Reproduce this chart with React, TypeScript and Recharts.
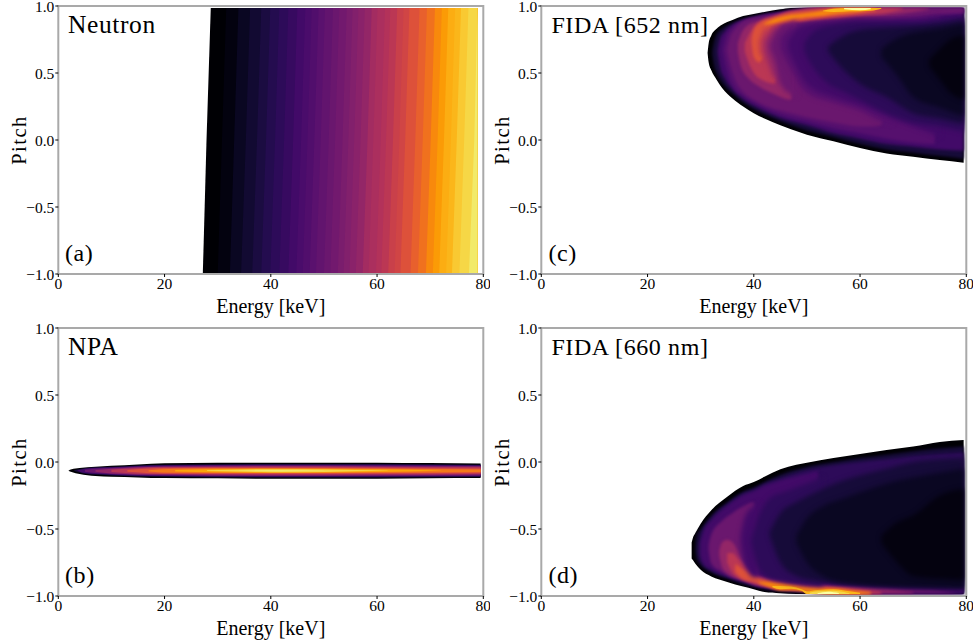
import { Area, ComposedChart, ReferenceArea, XAxis, YAxis } from 'recharts';

// [energy keV, lower pitch, upper pitch]
type Edge = [number, number, number];
type Band = [Edge[], string, string?];

const energyTicks = [0, 20, 40, 60, 80];
const pitchTicks = [-1, -0.5, 0, 0.5, 1];

// inferno steps used by the contour bands
const ink0 = '#000004';
const ink05 = '#0a0722';
const ink01 = '#04020f';
const ink10 = '#160b39';
const ink15 = '#2d0b59';
const ink20 = '#420a68';
const ink25 = '#56106e';
const ink30 = '#6a176e';
const ink40 = '#932667';
const ink50 = '#bb3754';
const ink60 = '#dd513a';
const ink70 = '#f37819';
const ink75 = '#f8890c';
const ink80 = '#fca50a';
const ink85 = '#fbb61a';
const ink90 = '#f6d746';
const ink95 = '#f2ea69';
const ink100 = '#fcffa4';

// ---------------------------------------------------------------- Neutron
const neutronColors = [
  '#000004', '#03020f', '#0a0722', '#120a32', '#1b0c41', '#240c4f', '#2d0b59', '#370a60', '#420a68',
  '#4a0c6b', '#510e6c', '#5a116e', '#62146e', '#6a176e', '#72196e', '#7a1d6d', '#82206c', '#8a226a',
  '#932667', '#a32c61', '#ab2f5e', '#b3325a', '#bb3754', '#c9404a', '#d04545', '#dd513a', '#e8602d',
  '#f0711e', '#f8890c', '#fb9b06', '#fcad12', '#fbb61a', '#f9c932', '#f6d746', '#f2ea69',
];
const neutronEdgesTop = [
  28.7, 31.6, 33.9, 36.1, 38.2, 39.9, 41.6, 43.3, 45, 46.5, 47.7, 49, 50.2, 51.7, 52.9, 54.3, 55.4, 56.5,
  57.7, 59, 60.1, 61.5, 62.5, 63.8, 65, 66.1, 68, 69.4, 70.9, 72.2, 73.4, 74.7, 75.8, 77.2, 78.9, 78.9,
];
const neutronEdgesMid = [
  27.9, 30.8, 33.1, 35.3, 37.4, 39.1, 40.8, 42.5, 44.2, 45.7, 46.9, 48.2, 49.4, 50.9, 52.1, 53.5, 54.6, 55.7,
  56.9, 58.2, 59.3, 60.7, 61.7, 63, 64.2, 65.3, 67.2, 68.6, 70.1, 71.4, 72.6, 73.9, 75, 76.4, 78.3, 78.9,
];
const neutronEdgesBottom = [
  27.2, 30, 32.3, 34.4, 36.5, 38.2, 39.9, 41.6, 43.3, 44.8, 46, 47.3, 48.5, 50, 51.2, 52.6, 53.7, 54.8,
  56, 57.3, 58.4, 59.8, 60.8, 62.1, 63.3, 64.4, 66.3, 67.7, 69.2, 70.5, 71.7, 73, 74.1, 75.5, 77.3, 78.9,
];
const neutronPitches = [0.985, 0, -1];

// ---------------------------------------------------------------- NPA
const npa0: Edge[] = [[1.9, -0.065, -0.065], [2.5, -0.075, -0.055], [4, -0.09, -0.045], [7, -0.105, -0.035], [10, -0.11, -0.028], [15, -0.115, -0.018], [20, -0.12, -0.01], [30, -0.122, -0.005], [40, -0.125, -0.005], [60, -0.125, -0.005], [70, -0.122, -0.008], [79.5, -0.12, -0.012]];
const npa1: Edge[] = [[3, -0.068, -0.062], [5, -0.088, -0.046], [10, -0.1, -0.036], [20, -0.11, -0.02], [40, -0.115, -0.015], [60, -0.115, -0.015], [79.5, -0.112, -0.02]];
const npa2: Edge[] = [[3.6, -0.066, -0.063], [5, -0.083, -0.05], [10, -0.095, -0.04], [20, -0.105, -0.025], [40, -0.11, -0.02], [60, -0.11, -0.02], [79.5, -0.107, -0.024]];
const npa3: Edge[] = [[5, -0.072, -0.058], [7, -0.083, -0.05], [10, -0.09, -0.044], [20, -0.1, -0.03], [40, -0.105, -0.025], [60, -0.104, -0.026], [79.5, -0.102, -0.029]];
const npa4: Edge[] = [[7, -0.072, -0.06], [10, -0.085, -0.05], [20, -0.095, -0.035], [40, -0.1, -0.03], [60, -0.098, -0.032], [79.5, -0.096, -0.034]];
const npa5: Edge[] = [[10, -0.075, -0.058], [14, -0.085, -0.048], [20, -0.09, -0.04], [40, -0.094, -0.036], [60, -0.092, -0.038], [79.5, -0.09, -0.04]];
const npa6: Edge[] = [[13, -0.072, -0.06], [20, -0.085, -0.045], [40, -0.088, -0.042], [60, -0.086, -0.044], [79.5, -0.082, -0.048]];
const npa7: Edge[] = [[17, -0.07, -0.062], [22, -0.08, -0.05], [40, -0.083, -0.047], [60, -0.08, -0.05], [79.5, -0.074, -0.056]];
const npa8: Edge[] = [[22, -0.07, -0.06], [30, -0.077, -0.053], [40, -0.08, -0.05], [60, -0.075, -0.055], [72, -0.066, -0.064]];
const npa9: Edge[] = [[28, -0.068, -0.062], [40, -0.076, -0.054], [50, -0.074, -0.056], [62, -0.066, -0.064]];
const npa10: Edge[] = [[34, -0.066, -0.064], [42, -0.07, -0.06], [50, -0.066, -0.064]];
const npaBands: Band[] = [
  [npa1, ink10, 'crisp'], [npa2, ink20, 'crisp'], [npa3, ink30, 'crisp'], [npa4, ink40, 'crisp'], [npa5, ink50, 'crisp'],
  [npa6, ink60, 'crisp'], [npa7, ink70, 'crisp'], [npa8, ink80, 'crisp'], [npa9, ink90, 'crisp'], [npa10, ink95, 'crisp'],
];

// ---------------------------------------------------------------- FIDA 652
const c0: Edge[] = [[31.3, 0.65, 0.65], [31.5, 0.58, 0.72], [32, 0.52, 0.78], [33, 0.45, 0.83], [34, 0.39, 0.86], [36, 0.31, 0.895], [38, 0.25, 0.925], [40, 0.2, 0.94], [42, 0.16, 0.955], [45, 0.11, 0.975], [47, 0.08, 0.985], [50, 0.04, 0.985], [55, -0.01, 0.985], [60, -0.06, 0.985], [65, -0.1, 0.985], [70, -0.125, 0.985], [75, -0.15, 0.985], [79.5, -0.17, 0.985]];
const c1: Edge[] = [[32.2, 0.64, 0.66], [32.5, 0.56, 0.73], [33, 0.5, 0.79], [34, 0.43, 0.83], [36, 0.345, 0.875], [38, 0.28, 0.905], [40, 0.23, 0.925], [42, 0.19, 0.94], [45, 0.14, 0.96], [47, 0.11, 0.975], [50, 0.07, 0.985], [55, 0.02, 0.985], [60, -0.03, 0.985], [65, -0.07, 0.985], [70, -0.095, 0.985], [75, -0.12, 0.985], [79.5, -0.14, 0.985]];
const c2: Edge[] = [[33.2, 0.65, 0.67], [33.6, 0.55, 0.75], [34.5, 0.46, 0.81], [36, 0.375, 0.86], [38, 0.305, 0.895], [40, 0.255, 0.915], [42, 0.215, 0.935], [45, 0.165, 0.95], [47, 0.14, 0.965], [50, 0.11, 0.98], [55, 0.05, 0.985], [60, 0.01, 0.985], [65, -0.03, 0.985], [70, -0.05, 0.985], [75, -0.07, 0.985], [79.5, -0.08, 0.985]];
const c25: Edge[] = [[34.2, 0.66, 0.68], [34.7, 0.56, 0.76], [36, 0.41, 0.84], [38, 0.33, 0.89], [40, 0.28, 0.912], [45, 0.19, 0.948], [50, 0.14, 0.975], [55, 0.09, 0.985], [60, 0.05, 0.985], [65, 0.01, 0.985], [70, -0.02, 0.985], [74, -0.03, 0.985], [75, 0.93, 0.985], [79.5, 0.94, 0.985]];
const c3: Edge[] = [[35, 0.66, 0.68], [35.5, 0.57, 0.76], [36.5, 0.45, 0.83], [38, 0.36, 0.885], [40, 0.3, 0.91], [42, 0.26, 0.925], [45, 0.22, 0.945], [47, 0.2, 0.955], [50, 0.17, 0.97], [55, 0.13, 0.98], [60, 0.1, 0.985], [62, 0.1, 0.985], [64, 0.11, 0.985], [66, 0.9, 0.985], [70, 0.92, 0.985], [75, 0.94, 0.985], [79.5, 0.95, 0.985]];
const c4: Edge[] = [[37, 0.66, 0.72], [37.5, 0.56, 0.78], [39, 0.46, 0.86], [41, 0.4, 0.89], [44, 0.34, 0.925], [47, 0.3, 0.945], [48, 0.92, 0.955], [49, 0.905, 0.97], [52, 0.9, 0.985], [60, 0.92, 0.985], [65, 0.93, 0.985], [70, 0.955, 0.985], [73, 0.975, 0.985]];
const c5: Edge[] = [[38.3, 0.66, 0.72], [39, 0.58, 0.78], [40, 0.5, 0.845], [42, 0.44, 0.9], [44, 0.42, 0.925], [45, 0.86, 0.94], [46, 0.87, 0.955], [50, 0.885, 0.975], [55, 0.91, 0.985], [60, 0.93, 0.985], [65, 0.95, 0.985], [68, 0.975, 0.985]];
const c6: Edge[] = [[39.6, 0.72, 0.76], [40, 0.62, 0.82], [41, 0.58, 0.87], [41.5, 0.6, 0.885], [43, 0.84, 0.905], [46, 0.875, 0.94], [50, 0.9, 0.96], [55, 0.925, 0.975], [60, 0.945, 0.985], [63, 0.965, 0.985]];
const c7: Edge[] = [[42, 0.86, 0.87], [44, 0.875, 0.905], [46, 0.895, 0.925], [50, 0.92, 0.945], [53, 0.93, 0.965], [56, 0.945, 0.985], [60, 0.96, 0.985], [62, 0.975, 0.985]];
const c8: Edge[] = [[53, 0.96, 0.965], [55, 0.955, 0.98], [58, 0.96, 0.985], [62, 0.965, 0.985], [64, 0.98, 0.985]];
const c9: Edge[] = [[57, 0.975, 0.985], [60, 0.968, 0.985], [62, 0.975, 0.985]];
const cHole6: Edge[] = [[41, 0.68, 0.74], [41.5, 0.62, 0.79], [42, 0.62, 0.83], [43, 0.7, 0.84]];
const cHole5: Edge[] = [[42, 0.66, 0.74], [43, 0.54, 0.8], [44, 0.46, 0.84], [45, 0.46, 0.85]];
const cHole4: Edge[] = [[43, 0.68, 0.72], [44, 0.58, 0.8], [45, 0.42, 0.85], [47, 0.34, 0.88], [48, 0.32, 0.9]];
const cHole3: Edge[] = [[45, 0.68, 0.76], [46.7, 0.55, 0.83], [50, 0.35, 0.87], [55, 0.28, 0.88], [60, 0.22, 0.9], [64, 0.14, 0.9], [66, 0.12, 0.9]];
const cHole25: Edge[] = [[46.5, 0.68, 0.74], [48, 0.55, 0.82], [50, 0.42, 0.86], [55, 0.32, 0.885], [60, 0.26, 0.9], [65, 0.18, 0.9], [70, 0.1, 0.9], [74, 0.04, 0.92], [75, 0.02, 0.93]];
const cHole2: Edge[] = [[49.5, 0.66, 0.72], [51, 0.55, 0.8], [54, 0.42, 0.85], [57, 0.36, 0.87], [60, 0.3, 0.88], [65, 0.2, 0.88], [70, 0.13, 0.88], [75, 0.1, 0.9], [79.5, 0.06, 0.92]];
const cHole15: Edge[] = [[54, 0.66, 0.7], [57, 0.52, 0.78], [60, 0.42, 0.82], [65, 0.32, 0.84], [70, 0.2, 0.85], [75, 0.16, 0.87], [79.5, 0.12, 0.9]];
const cHole1: Edge[] = [[64, 0.62, 0.68], [67, 0.48, 0.76], [70, 0.32, 0.8], [75, 0.24, 0.83], [79.5, 0.18, 0.87]];
const cHole0: Edge[] = [[73, 0.55, 0.6], [75, 0.45, 0.68], [77, 0.35, 0.75], [79.5, 0.3, 0.78]];
const cBands: Band[] = [
  [c1, ink10], [c2, ink20], [c25, ink25], [c3, ink30], [c4, ink40], [c5, ink50], [c6, ink60], [c7, ink75], [c8, ink85, 'crisp'], [c9, ink100, 'crisp'],
  [cHole6, ink50, 'soft'], [cHole5, ink40, 'soft'], [cHole4, ink30, 'soft'], [cHole3, ink25, 'soft'], [cHole25, ink20, 'soft'], [cHole2, ink15, 'soft'], [cHole15, ink10, 'soft'], [cHole1, ink05, 'soft'], [cHole0, ink01, 'soft'],
];

// ---------------------------------------------------------------- FIDA 660
const d0: Edge[] = [[28.3, -0.72, -0.6], [28.5, -0.73, -0.57], [29, -0.76, -0.53], [30, -0.805, -0.46], [32, -0.855, -0.36], [35, -0.895, -0.26], [38, -0.93, -0.18], [40, -0.95, -0.15], [42, -0.97, -0.11], [45, -0.98, -0.055], [48, -0.985, -0.02], [50, -0.985, -0.005], [55, -0.985, 0.03], [60, -0.985, 0.06], [65, -0.985, 0.09], [70, -0.985, 0.115], [75, -0.985, 0.15], [79.5, -0.985, 0.165]];
const d1: Edge[] = [[29, -0.66, -0.62], [29.2, -0.72, -0.55], [30, -0.77, -0.5], [32, -0.825, -0.4], [35, -0.87, -0.3], [38, -0.91, -0.22], [40, -0.93, -0.19], [42, -0.95, -0.15], [45, -0.965, -0.095], [50, -0.975, -0.035], [55, -0.985, 0], [60, -0.985, 0.03], [65, -0.985, 0.055], [70, -0.985, 0.08], [75, -0.985, 0.1], [79.5, -0.985, 0.115]];
const d15: Edge[] = [[29.6, -0.68, -0.62], [30, -0.74, -0.55], [32, -0.81, -0.42], [35, -0.86, -0.315], [38, -0.9, -0.235], [40, -0.92, -0.205], [42, -0.94, -0.165], [45, -0.958, -0.12], [50, -0.97, -0.06], [55, -0.98, -0.025], [60, -0.983, 0], [65, -0.983, 0.02], [70, -0.983, 0.045], [75, -0.983, 0.06], [79.5, -0.983, 0.07]];
const d2: Edge[] = [[30, -0.7, -0.6], [30.6, -0.76, -0.52], [32, -0.8, -0.44], [35, -0.85, -0.33], [38, -0.89, -0.25], [40, -0.91, -0.22], [42, -0.93, -0.18], [45, -0.95, -0.14], [50, -0.965, -0.09], [52, -0.968, -0.07], [53, -0.97, -0.9], [60, -0.98, -0.92], [70, -0.98, -0.93], [79.5, -0.98, -0.94]];
const d3: Edge[] = [[31.5, -0.66, -0.62], [32, -0.76, -0.54], [34, -0.82, -0.44], [36, -0.86, -0.38], [38, -0.875, -0.33], [40, -0.92, -0.3], [41, -0.93, -0.85], [45, -0.94, -0.87], [50, -0.96, -0.9], [55, -0.97, -0.92], [60, -0.98, -0.93], [70, -0.98, -0.95], [75, -0.98, -0.96], [78, -0.98, -0.975]];
const d4: Edge[] = [[33.5, -0.7, -0.66], [34, -0.78, -0.6], [35, -0.83, -0.58], [36, -0.855, -0.6], [38, -0.885, -0.74], [40, -0.91, -0.83], [45, -0.945, -0.89], [50, -0.955, -0.915], [55, -0.975, -0.93], [60, -0.98, -0.94], [66, -0.98, -0.955], [70, -0.98, -0.97]];
const d5: Edge[] = [[35, -0.75, -0.68], [36, -0.83, -0.68], [37, -0.86, -0.72], [39, -0.89, -0.8], [41, -0.915, -0.87], [45, -0.95, -0.9], [50, -0.96, -0.925], [55, -0.98, -0.935], [60, -0.985, -0.95], [64, -0.985, -0.97]];
const d6: Edge[] = [[36.5, -0.82, -0.76], [38, -0.875, -0.8], [40, -0.895, -0.85], [42, -0.92, -0.88], [45, -0.955, -0.905], [48, -0.955, -0.925], [50, -0.965, -0.935], [55, -0.985, -0.94], [60, -0.985, -0.96], [62, -0.985, -0.97]];
const d7: Edge[] = [[41, -0.905, -0.895], [43, -0.93, -0.9], [45, -0.955, -0.91], [47, -0.955, -0.92], [49, -0.96, -0.935], [52, -0.975, -0.945], [55, -0.985, -0.945], [59, -0.985, -0.965], [62, -0.985, -0.975]];
const d8: Edge[] = [[43.5, -0.935, -0.925], [45, -0.95, -0.925], [47, -0.945, -0.93], [49, -0.96, -0.95], [50, -0.985, -0.965], [52, -0.985, -0.955], [55, -0.985, -0.95], [58, -0.985, -0.965], [60, -0.985, -0.975]];
const d85: Edge[] = [[50.5, -0.985, -0.975], [52, -0.985, -0.965], [55, -0.985, -0.96], [57, -0.985, -0.97], [58, -0.985, -0.98]];
const d9: Edge[] = [[52, -0.985, -0.98], [54, -0.985, -0.968], [56, -0.985, -0.978]];
const dHole3: Edge[] = [[37.5, -0.6, -0.55], [38, -0.72, -0.45], [39, -0.82, -0.36], [40, -0.86, -0.33], [41, -0.85, -0.3]];
const dHole2: Edge[] = [[39.5, -0.6, -0.58], [41, -0.8, -0.4], [43, -0.87, -0.27], [46, -0.9, -0.22], [50, -0.92, -0.16], [53, -0.93, -0.11]];
const dHole15: Edge[] = [[43, -0.55, -0.52], [45, -0.75, -0.38], [48, -0.85, -0.3], [52, -0.89, -0.22], [56, -0.91, -0.15], [60, -0.92, -0.1], [65, -0.93, -0.05], [70, -0.935, 0], [75, -0.94, 0.02], [79.5, -0.945, 0.03]];
const dHole1: Edge[] = [[48, -0.6, -0.55], [50, -0.75, -0.42], [53, -0.85, -0.33], [57, -0.9, -0.27], [62, -0.92, -0.2], [67, -0.93, -0.14], [72, -0.935, -0.1], [79.5, -0.94, -0.05]];
const dHole0: Edge[] = [[64, -0.6, -0.55], [67, -0.75, -0.45], [70, -0.85, -0.4], [75, -0.87, -0.25], [79.5, -0.88, -0.2]];
const dBands: Band[] = [
  [d1, ink10], [d15, ink15], [d2, ink20], [d3, ink30], [d4, ink40], [d5, ink50], [d6, ink60], [d7, ink75], [d8, ink85, 'crisp'], [d85, ink90, 'crisp'], [d9, ink100, 'crisp'],
  [dHole3, ink20, 'soft'], [dHole2, ink15, 'soft'], [dHole15, ink10, 'soft'], [dHole1, ink05, 'soft'], [dHole0, ink01, 'soft'],
];

const FONT = '"Liberation Serif", serif';
const SPINE = '#a9a9a9';
// room above each plot, so that the top tick label is not cut by the svg
const HEADROOM = 16;

const formatPitch = (v: number) => (v < 0 ? `\u2212${Math.abs(v).toFixed(1)}` : v.toFixed(1));
const toRows = (edges: Edge[]) => edges.map(([energy, low, high]) => ({ energy, range: [low, high] }));

// each neutron band runs to the last edge, so the next band paints over it without a seam
const neutronRows = neutronPitches.map((pitch, r) => {
  const edges = [neutronEdgesTop, neutronEdgesMid, neutronEdgesBottom][r];
  const row: Record<string, any> = { pitch };
  neutronColors.forEach((_, i) => {
    row[`b${i}`] = [edges[i], edges[edges.length - 1]];
  });
  return row;
});

interface PanelProps {
  left: number;
  plotTop: number;
  title: string;
  titleSize: number;
  tag: string;
  outline?: Edge[];
  bands?: Band[];
  vertical?: boolean;
}

function Panel({ left, plotTop, title, titleSize, tag, outline, bands = [], vertical = false }: PanelProps) {
  const axisTick = { fill: '#000', fontSize: 15.5, fontFamily: FONT };
  const top = plotTop - HEADROOM;
  return (
    <div style={{ position: 'absolute', left, top, width: 490, height: 330 }}>
      <ComposedChart
        width={490}
        height={330}
        layout={vertical ? 'vertical' : 'horizontal'}
        data={vertical ? neutronRows : undefined}
        margin={{ top: HEADROOM, right: 6.7, bottom: 16, left: 18.3 }}
      >
        <XAxis
          type="number"
          dataKey={vertical ? undefined : 'energy'}
          domain={[0, 80]}
          ticks={energyTicks}
          height={30}
          interval={0}
          allowDataOverflow
          axisLine={false}
          tickSize={3}
          tickMargin={1}
          tickLine={{ stroke: '#000' }}
          tick={axisTick}
          label={{ value: 'Energy [keV]', position: 'insideBottom', offset: -9, fill: '#000', fontSize: 20, fontFamily: FONT }}
        />
        <YAxis
          type="number"
          dataKey={vertical ? 'pitch' : undefined}
          domain={[-1, 1]}
          ticks={pitchTicks}
          reversed={vertical}
          width={40}
          interval={0}
          allowDataOverflow
          axisLine={false}
          tickSize={3}
          tickMargin={1}
          tickLine={{ stroke: '#000' }}
          tick={axisTick}
          tickFormatter={formatPitch}
          label={{ value: 'Pitch', angle: -90, position: 'center', dx: -20, fill: '#000', fontSize: 20.5, letterSpacing: 1.5, fontFamily: FONT }}
        />
        {vertical &&
          neutronColors.map((color, i) => (
            <Area key={i} dataKey={`b${i}`} type="linear" fill={color} fillOpacity={1} stroke="none" dot={false} activeDot={false} isAnimationActive={false} />
          ))}
        {outline && (
          <Area data={toRows(outline)} dataKey="range" type="monotone" fill={ink0} fillOpacity={1} stroke="none" dot={false} activeDot={false} isAnimationActive={false} />
        )}
        {bands.map(([edges, color, look], i) => (
          <Area key={i} className={look ?? 'contour'} data={toRows(edges)} dataKey="range" type="monotone" fill={color} fillOpacity={1} stroke="none" dot={false} activeDot={false} isAnimationActive={false} />
        ))}
        <ReferenceArea x1={0} x2={80} y1={-1} y2={1} fill="none" stroke={SPINE} strokeWidth={2} ifOverflow="visible" />
      </ComposedChart>
      <div style={{ position: 'absolute', left: 68, top: HEADROOM + 5, fontFamily: FONT, fontSize: titleSize, lineHeight: '28px', letterSpacing: 0.6, color: '#000' }}>{title}</div>
      <div style={{ position: 'absolute', left: 65, top: HEADROOM + 233, fontFamily: FONT, fontSize: 24, lineHeight: '28px', letterSpacing: 0.6, color: '#000' }}>{tag}</div>
    </div>
  );
}

export default function App() {
  return (
    <div style={{ position: 'absolute', left: 0, top: 0, width: 979, height: 643, background: '#fff', overflow: 'hidden' }}>
      <style>{'.contour path { filter: blur(1.5px); } .soft path { filter: blur(2.5px); } .crisp path { filter: blur(0.5px); }'}</style>
      <Panel left={0} plotTop={6} title="Neutron" titleSize={25.5} tag="(a)" vertical />
      <Panel left={0} plotTop={327.5} title="NPA" titleSize={25.5} tag="(b)" outline={npa0} bands={npaBands} />
      <Panel left={483.4} plotTop={6} title="FIDA [652 nm]" titleSize={24} tag="(c)" outline={c0} bands={cBands} />
      <Panel left={483.4} plotTop={327.5} title="FIDA [660 nm]" titleSize={24} tag="(d)" outline={d0} bands={dBands} />
    </div>
  );
}
